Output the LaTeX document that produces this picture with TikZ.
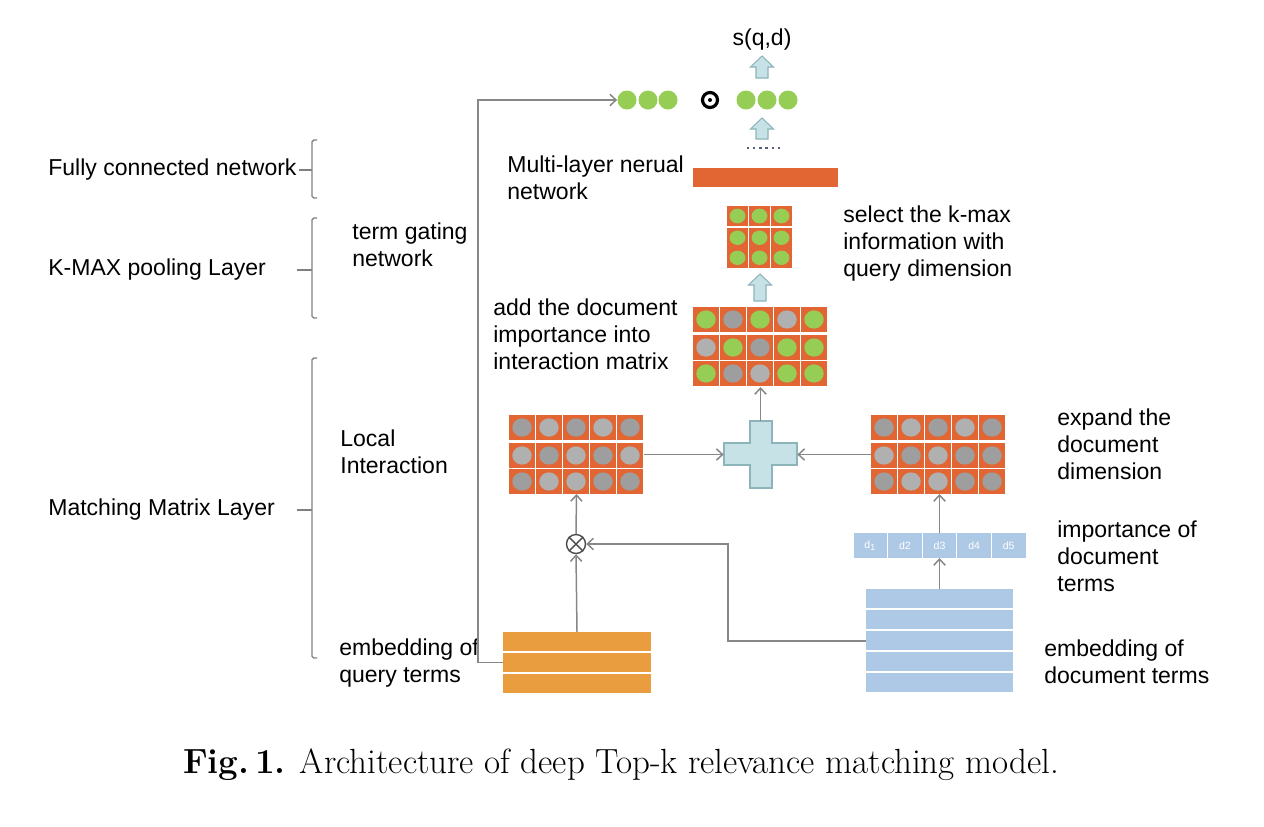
\documentclass[tikz,border=0pt]{standalone}
\usepackage{fontspec}
\setsansfont{Liberation Sans}
\usetikzlibrary{arrows.meta,positioning}

\definecolor{matOrange}{RGB}{226,102,52}
\definecolor{leafGreen}{RGB}{150,205,85}
\definecolor{dotGrayA}{RGB}{158,158,158}
\definecolor{dotGrayB}{RGB}{176,176,176}
\definecolor{plusBlue}{RGB}{198,226,230}
\definecolor{plusEdge}{RGB}{140,180,186}
\definecolor{queryOrange}{RGB}{234,157,62}
\definecolor{docBlue}{RGB}{174,201,230}
\definecolor{lineGray}{RGB}{135,135,135}
\definecolor{dotNavy}{RGB}{85,95,120}

\def\px{0.02cm}

\tikzstyle{descText} = [font=\sffamily\fontsize{13.1}{15.4}\selectfont, align=left, inner sep=0pt, anchor=west]
\tikzstyle{blockBox} = [inner sep=0pt, outer sep=0pt, anchor=north west]
\tikzstyle{flow} = [draw=lineGray, line width=0.85pt, -{Straight Barb[length=3.5pt,width=6.5pt]}]
\tikzstyle{bracket} = [draw=gray, line width=0.8pt, rounded corners=1pt]
\tikzstyle{greenDot} = [circle, fill=leafGreen, inner sep=0pt, minimum size=19*\px]
\tikzstyle{docCell} = [fill=docBlue, inner sep=0pt, minimum width=33.6*\px, minimum height=25*\px, text=white, font=\sffamily\fontsize{6}{7}\selectfont]

% one row of orange cells with a dot in each
\newcommand{\matrow}[5]{%
  \foreach \cc [count=\k from 0] in {#5}{
    \fill[matOrange] ({#1+\k*#3},#2) rectangle ++({#3-1},{#4-1});
    \fill[\cc] ({#1+(\k+0.5)*#3-0.5},{#2+#4/2-0.5}) ellipse ({0.36*#3} and {0.35*#4});
  }}

% light blue block arrow pointing up
\newcommand{\fatarrow}[4]{%
  \filldraw[fill=plusBlue, draw=plusEdge, line width=0.6pt]
    ({#1-6},#4) -- ({#1-6},#3) -- ({#1-11.5},#3) -- (#1,#2) -- ({#1+11.5},#3) -- ({#1+6},#3) -- ({#1+6},#4) -- cycle;}

\begin{document}
\begin{tikzpicture}[x=\px, y=-\px]
	\useasboundingbox (0,0) rectangle (1264,826);

	% layer names on the left
	\node (fcText) [descText] at (48,170) {Fully connected network};
	\node (kmaxText) [descText] at (48,270) {K-MAX pooling Layer};
	\node (matchText) [descText] at (48,510) {Matching Matrix Layer};

	\draw[bracket] (317,140) -- (312,140) -- (312,198) -- (317,198);
	\draw[bracket] (299,170) -- (312,170);
	\draw[bracket] (317,218) -- (312,218) -- (312,318) -- (317,318);
	\draw[bracket] (297,270) -- (312,270);
	\draw[bracket] (317,358) -- (312,358) -- (312,658) -- (317,658);
	\draw[bracket] (297,510) -- (312,510);

	\node (gateText) [descText] at (352,244.5) {term gating\\network};
	\node (localText) [descText] at (340,451.5) {Local\\Interaction};
	\node (queryText) [descText] at (339,663) {embedding of\\query terms};

	% output part
	\node (score) [descText, anchor=center] at (762,40) {s(q,d)};
	\fatarrow{762}{56}{67}{78}
	\foreach \xx [count=\i] in {627,648,668} \node (gateDot\i) [greenDot] at (\xx,100) {};
	\foreach \xx [count=\i] in {746,767,788} \node (mlpDot\i) [greenDot] at (\xx,100) {};
	\node (hadamard) [circle, draw, line width=1.8pt, inner sep=0pt, minimum size=15*\px] at (710,100) {};
	\fill (hadamard.center) circle (2);
	\fatarrow{762}{118}{129}{139}
	\draw[dotNavy, line width=1.1pt, dash pattern=on 1.3pt off 2.2pt] (747,148) -- (782,148);
	\node (mlpBar) [blockBox, fill=matOrange, minimum width=145*\px, minimum height=19*\px] at (693,168) {};
	\node (mlpText) [descText] at (507,178) {Multi-layer nerual\\network};

	% k-max pooling
	\node (kmaxMat) [blockBox, minimum width=66*\px, minimum height=62*\px] at (727,206) {};
	\matrow{727}{206}{22}{21}{leafGreen,leafGreen,leafGreen}
	\matrow{727}{228}{22}{20.5}{leafGreen,leafGreen,leafGreen}
	\matrow{727}{248}{22}{20.5}{leafGreen,leafGreen,leafGreen}
	\node (selectText) [descText] at (843,243.5) {select the k-max\\information with\\query dimension};
	\fatarrow{760}{274}{285}{301}

	\node (addMat) [blockBox, minimum width=135*\px, minimum height=80*\px] at (693,307) {};
	\matrow{693}{307}{27}{26}{leafGreen,dotGrayA,leafGreen,dotGrayB,leafGreen}
	\matrow{693}{335}{27}{26}{dotGrayB,leafGreen,dotGrayA,leafGreen,leafGreen}
	\matrow{693}{361}{27}{26}{leafGreen,dotGrayA,dotGrayB,leafGreen,leafGreen}
	\node (addText) [descText] at (493,334) {add the document\\importance into\\interaction matrix};

	% local interaction
	\node (leftMat) [blockBox, minimum width=135*\px, minimum height=79*\px] at (509,415) {};
	\matrow{509}{415}{27}{26}{dotGrayA,dotGrayB,dotGrayA,dotGrayB,dotGrayA}
	\matrow{509}{443}{27}{26}{dotGrayB,dotGrayA,dotGrayB,dotGrayA,dotGrayB}
	\matrow{509}{469}{27}{26}{dotGrayA,dotGrayB,dotGrayB,dotGrayA,dotGrayA}

	\node (rightMat) [blockBox, minimum width=135*\px, minimum height=79*\px] at (871,415) {};
	\matrow{871}{415}{27}{26}{dotGrayA,dotGrayB,dotGrayA,dotGrayB,dotGrayA}
	\matrow{871}{443}{27}{26}{dotGrayB,dotGrayA,dotGrayB,dotGrayA,dotGrayA}
	\matrow{871}{469}{27}{26}{dotGrayA,dotGrayB,dotGrayB,dotGrayA,dotGrayA}
	\node (expandText) [descText] at (1057,444) {expand the\\document\\dimension};

	\node (plus) [inner sep=0pt, minimum width=73*\px, minimum height=67*\px] at (760.5,454.5) {};
	\filldraw[fill=plusBlue, draw=plusEdge, line width=0.6pt]
		(750,421) -- (772,421) -- (772,443) -- (797,443) -- (797,465) -- (772,465)
		-- (772,488) -- (750,488) -- (750,465) -- (724,465) -- (724,443) -- (750,443) -- cycle;

	\node (otimes) [circle, draw=gray!60!black, line width=0.8pt, inner sep=0pt, minimum size=19*\px] at (576,544) {};
	\draw[gray!60!black, line width=0.8pt] (otimes.45) -- (otimes.225) (otimes.135) -- (otimes.315);

	% document importance
	\node (dVec) [blockBox, minimum width=173*\px, minimum height=25*\px] at (853,533) {};
	\foreach \t [count=\k from 0] in {d\textsubscript{1},d2,d3,d4,d5}
		\node (dCell\k) [docCell] at ({853+17.3+\k*34.6},545.5) {\t};
	\node (importText) [descText] at (1057,556) {importance of\\document\\terms};

	% embeddings
	\node (queryEmb) [blockBox, minimum width=148*\px, minimum height=61*\px] at (503,632) {};
	\foreach \k in {0,1,2} \fill[queryOrange] (503,{632+\k*21}) rectangle ++(148,19);

	\node (docEmb) [blockBox, minimum width=147*\px, minimum height=104*\px] at (866,589) {};
	\foreach \k in {0,...,4} \fill[docBlue] (866,{589+\k*21}) rectangle ++(147,19);
	\node (docText) [descText] at (1044,662) {embedding of\\document terms};

	% connectors
	\coordinate (skipTurn) at (478,100);
	\coordinate (docTurn) at (728,544);
	\path [flow] (queryEmb.west) -| (skipTurn) -- (gateDot1.west);
	\path [flow] (queryEmb.north) -- (otimes.south);
	\path [flow] (docEmb.west) -| (docTurn) -- (otimes.east);
	\path [flow] (otimes.north) -- (leftMat.south);
	\path [flow] (docEmb.north) -- (dVec.south);
	\path [flow] (dVec.north) -- (dVec.north |- rightMat.south);
	\path [flow] (leftMat.east) -- (plus.west);
	\path [flow] (rightMat.west) -- (plus.east);
	\path [flow] (plus.north) -- (addMat.south);

	% caption
	\node (caption) [font=\fontsize{19.9}{23}\selectfont, inner sep=0pt] at (621,765) {\textbf{Fig.\,1.} Architecture of deep Top-k relevance matching model.};
\end{tikzpicture}
\end{document}
